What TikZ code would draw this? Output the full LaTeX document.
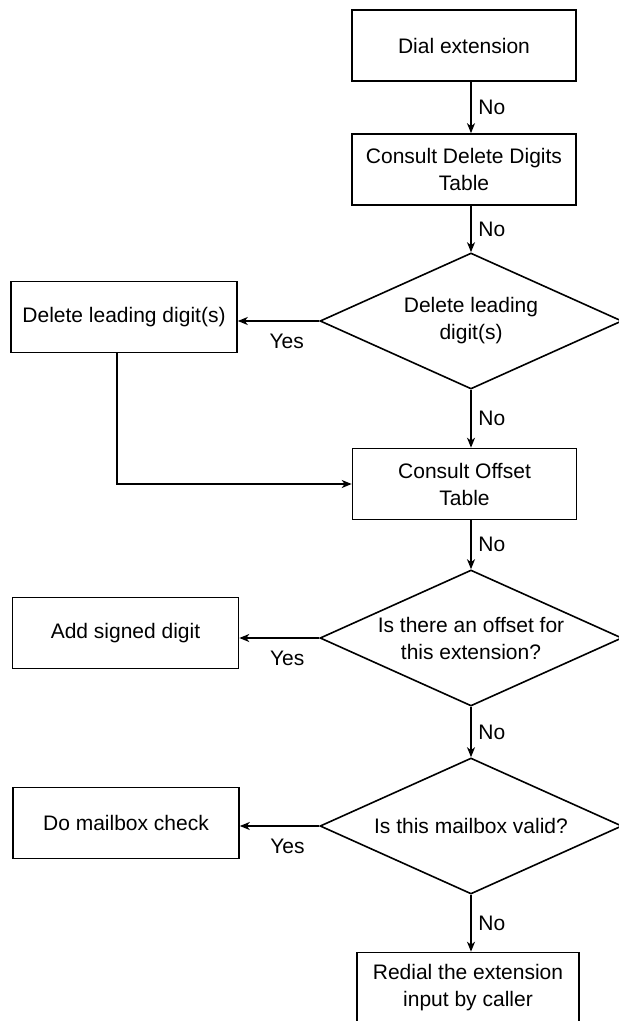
\documentclass[tikz,border=0pt]{standalone}
\usepackage{fontspec}
\setmainfont{Liberation Sans}
\usetikzlibrary{shapes.geometric,arrows.meta}

\begin{document}
\begin{tikzpicture}[
  x=0.5pt, y=-0.5pt,
  box/.style={rectangle, draw, minimum width=112pt, minimum height=35.5pt, inner sep=2pt, align=center, font=\fontsize{10.5}{13.5}\selectfont, line width=0.8pt},
  sidebox/.style={box, minimum width=113pt},
  decision/.style={diamond, draw, aspect=2.2, minimum width=151pt, minimum height=68pt, inner sep=0pt, align=center, font=\fontsize{10.5}{13.5}\selectfont, line width=0.8pt},
  flow/.style={-{Stealth[length=5pt,width=4pt,inset=1.5pt]}, line width=0.8pt},
  lbl/.style={font=\fontsize{10.5}{13.5}\selectfont}
]
\useasboundingbox (0,0) rectangle (618,1021);

% Main column
\node[box] (dial) at (464,45.5) {Dial extension};
\node[box] (cdd) at (464,169.5) {Consult Delete Digits\\Table};
\node[decision] (dec1) at (471,321) {Delete leading\\digit(s)};
\node[box] (ofs) at (464.5,484) {Consult Offset\\Table};
\node[decision] (dec2) at (471,638) {Is there an offset for\\this extension?};
\node[decision] (dec3) at (471,826) {Is this mailbox valid?};
\node[box, minimum width=111pt] (redial) at (468,988) {Redial the extension\\input by caller};

% Side actions
\node[sidebox] (del) at (124,317) {Delete leading digit(s)};
\node[sidebox] (add) at (125.5,633) {Add signed digit};
\node[sidebox] (mbx) at (126,823) {Do mailbox check};

% No branches
\draw[flow] (dial.south -| dec1) -- (cdd.north -| dec1) node[midway,right,lbl] {No};
\draw[flow] (cdd.south -| dec1) -- (dec1.north) node[midway,right,lbl] {No};
\draw[flow] (dec1.south) -- (ofs.north -| dec1) node[midway,right,lbl] {No};
\draw[flow] (ofs.south -| dec2) -- (dec2.north) node[midway,right,lbl] {No};
\draw[flow] (dec2.south) -- (dec3.north) node[midway,right,lbl] {No};
\draw[flow] (dec3.south) -- (redial.north -| dec3) node[midway,right,lbl] {No};

% Yes branches
\draw[flow] (dec1.west) -- (del.east |- dec1.west) node[pos=0.4,below=3pt,lbl] {Yes};
\draw[flow] (dec2.west) -- (add.east |- dec2.west) node[pos=0.4,below=3pt,lbl] {Yes};
\draw[flow] (dec3.west) -- (mbx.east |- dec3.west) node[pos=0.4,below=3pt,lbl] {Yes};

% Back into the main column
\draw[flow] ([xshift=-3.5pt]del.south) |- (ofs.west);

\end{tikzpicture}
\end{document}
